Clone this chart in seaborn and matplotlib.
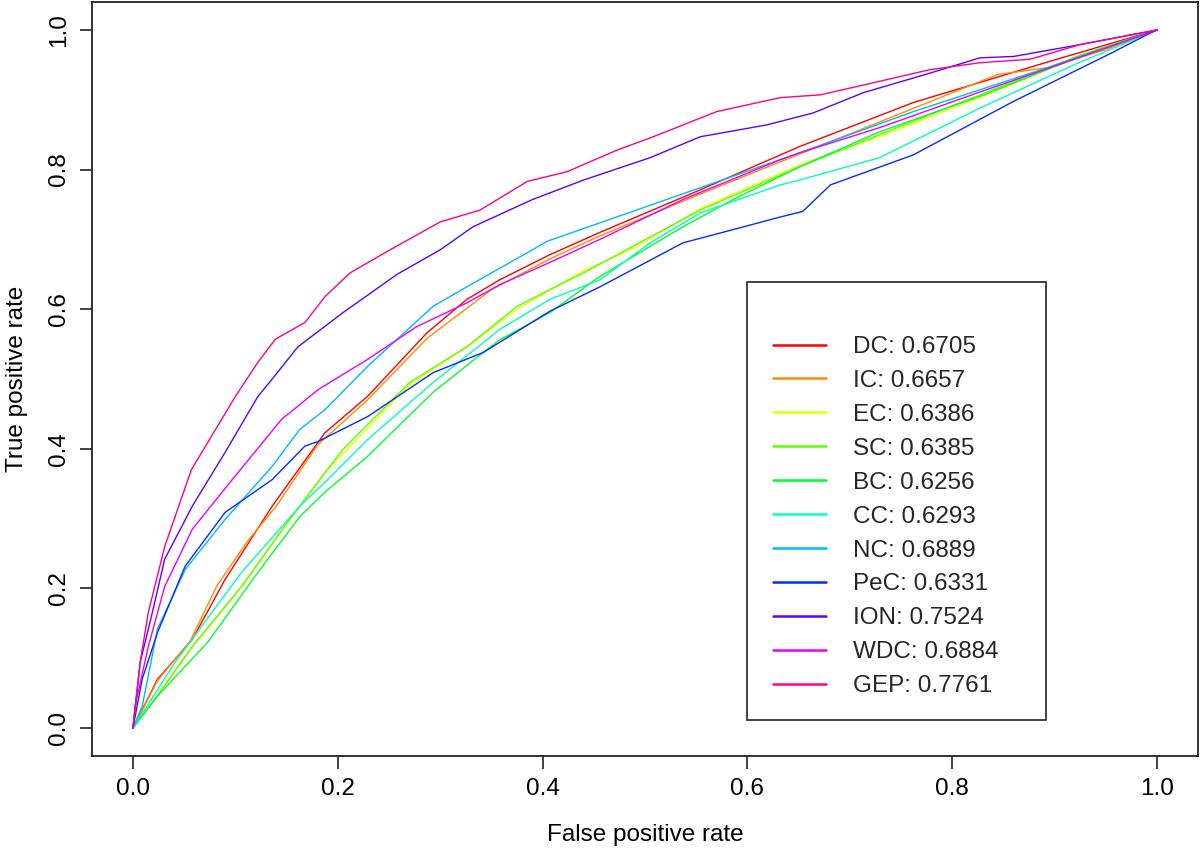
import numpy as np
import pandas as pd
import matplotlib
matplotlib.use("Agg")
import matplotlib.pyplot as plt
from matplotlib.lines import Line2D
from matplotlib.patches import Rectangle
import seaborn as sns

# ---------------- data ----------------
names = ["DC", "IC", "EC", "SC", "BC", "CC", "NC", "PeC", "ION", "WDC", "GEP"]
aucs = ["0.6705", "0.6657", "0.6386", "0.6385", "0.6256", "0.6293",
        "0.6889", "0.6331", "0.7524", "0.6884", "0.7761"]
colors = ["#FF0000", "#FF8B00", "#E8FF00", "#5DFF00", "#00FF2E", "#00FFB9",
          "#00B9FF", "#002EFF", "#5D00FF", "#E800FF", "#FF008B"]

dc_x = [0, 0.024, 0.058, 0.09, 0.136, 0.1875, 0.229, 0.287, 0.326, 0.358, 0.407, 0.456, 0.554, 0.651, 0.762, 0.893, 1.0]
dc_y = [0, 0.07, 0.127, 0.213, 0.318, 0.423, 0.475, 0.566, 0.614, 0.642, 0.678, 0.71, 0.771, 0.833, 0.896, 0.954, 1.0]

ic_x = [0, 0.024, 0.056, 0.082, 0.111, 0.14, 0.18, 0.229, 0.287, 0.35, 0.407, 0.456, 0.554, 0.632, 0.739, 0.844, 0.893, 0.95, 1.0]
ic_y = [0, 0.068, 0.125, 0.204, 0.266, 0.318, 0.405, 0.47, 0.558, 0.628, 0.672, 0.705, 0.765, 0.811, 0.874, 0.936, 0.946, 0.972, 1.0]

ec_x = [0, 0.02, 0.06, 0.105, 0.15, 0.19, 0.27, 0.33, 0.375, 0.44, 0.49, 0.555, 0.65, 0.73, 0.83, 0.925, 1.0]
ec_y = [0, 0.038, 0.12, 0.2, 0.292, 0.37, 0.492, 0.55, 0.6, 0.655, 0.688, 0.745, 0.806, 0.848, 0.905, 0.962, 1.0]

sc_x = [0, 0.019, 0.058, 0.106, 0.148, 0.1875, 0.205, 0.27, 0.326, 0.375, 0.407, 0.44, 0.488, 0.554, 0.651, 0.729, 0.827, 0.925, 1.0]
sc_y = [0, 0.037, 0.117, 0.203, 0.289, 0.366, 0.399, 0.495, 0.546, 0.604, 0.628, 0.652, 0.69, 0.742, 0.804, 0.85, 0.907, 0.964, 1.0]

bc_x = [0, 0.024, 0.073, 0.122, 0.163, 0.1875, 0.229, 0.293, 0.342, 0.358, 0.407, 0.456, 0.537, 0.586, 0.651, 0.729, 0.827, 0.925, 1.0]
bc_y = [0, 0.046, 0.123, 0.223, 0.303, 0.338, 0.389, 0.481, 0.538, 0.556, 0.595, 0.647, 0.718, 0.757, 0.804, 0.854, 0.905, 0.962, 1.0]

cc_x = [0, 0.041, 0.106, 0.163, 0.1875, 0.229, 0.293, 0.342, 0.358, 0.407, 0.456, 0.505, 0.554, 0.632, 0.651, 0.729, 0.827, 0.925, 1.0]
cc_y = [0, 0.094, 0.223, 0.318, 0.352, 0.413, 0.495, 0.552, 0.571, 0.614, 0.642, 0.695, 0.738, 0.778, 0.785, 0.817, 0.888, 0.954, 1.0]

nc_x = [0, 0.009, 0.024, 0.051, 0.09, 0.136, 0.163, 0.1875, 0.229, 0.293, 0.326, 0.39, 0.404, 0.554, 0.651, 0.762, 0.893, 1.0]
nc_y = [0, 0.031, 0.142, 0.227, 0.299, 0.375, 0.428, 0.456, 0.518, 0.604, 0.632, 0.685, 0.697, 0.774, 0.824, 0.883, 0.946, 1.0]

pec_x = [0, 0.009, 0.024, 0.051, 0.09, 0.136, 0.168, 0.18, 0.229, 0.293, 0.342, 0.407, 0.456, 0.537, 0.586, 0.632, 0.654, 0.681, 0.762, 0.859, 0.957, 0.99, 1.0]
pec_y = [0, 0.07, 0.137, 0.232, 0.309, 0.356, 0.404, 0.41, 0.446, 0.509, 0.538, 0.597, 0.632, 0.695, 0.714, 0.732, 0.74, 0.778, 0.821, 0.897, 0.968, 0.993, 1.0]

ion_x = [0, 0.007, 0.019, 0.031, 0.058, 0.09, 0.122, 0.136, 0.161, 0.205, 0.258, 0.30, 0.332, 0.39, 0.44, 0.505, 0.554, 0.619, 0.664, 0.713, 0.778, 0.827, 0.86, 0.925, 1.0]
ion_y = [0, 0.094, 0.166, 0.242, 0.318, 0.395, 0.475, 0.5, 0.546, 0.595, 0.65, 0.685, 0.718, 0.757, 0.785, 0.817, 0.847, 0.864, 0.881, 0.91, 0.938, 0.96, 0.962, 0.979, 1.0]

wdc_x = [0, 0.002, 0.015, 0.031, 0.058, 0.097, 0.145, 0.181, 0.229, 0.277, 0.326, 0.358, 0.407, 0.456, 0.537, 0.632, 0.651, 0.729, 0.827, 0.925, 1.0]
wdc_y = [0, 0.031, 0.117, 0.203, 0.285, 0.356, 0.442, 0.485, 0.528, 0.575, 0.609, 0.635, 0.667, 0.70, 0.757, 0.814, 0.824, 0.86, 0.911, 0.961, 1.0]

gep_x = [0, 0.007, 0.015, 0.031, 0.057, 0.1, 0.122, 0.139, 0.168, 0.1875, 0.212, 0.251, 0.30, 0.339, 0.385, 0.424, 0.473, 0.508, 0.570, 0.632, 0.671, 0.713, 0.778, 0.827, 0.876, 0.925, 1.0]
gep_y = [0, 0.094, 0.166, 0.26, 0.37, 0.475, 0.524, 0.557, 0.581, 0.618, 0.652, 0.685, 0.725, 0.742, 0.783, 0.797, 0.828, 0.847, 0.883, 0.903, 0.907, 0.921, 0.943, 0.953, 0.958, 0.979, 1.0]

xticks = [0.0, 0.2, 0.4, 0.6, 0.8, 1.0]
yticks = [0.0, 0.2, 0.4, 0.6, 0.8, 1.0]
tick_labels = ["0.0", "0.2", "0.4", "0.6", "0.8", "1.0"]

curves = {
    "DC": (dc_x, dc_y), "IC": (ic_x, ic_y), "EC": (ec_x, ec_y), "SC": (sc_x, sc_y),
    "BC": (bc_x, bc_y), "CC": (cc_x, cc_y), "NC": (nc_x, nc_y), "PeC": (pec_x, pec_y),
    "ION": (ion_x, ion_y), "WDC": (wdc_x, wdc_y), "GEP": (gep_x, gep_y),
}

rows = []
for n in names:
    xs, ys = curves[n]
    for i, (a, b) in enumerate(zip(xs, ys)):
        rows.append({"method": n, "order": i, "fpr": a, "tpr": b})
df = pd.DataFrame(rows)

# ---------------- plot ----------------
sns.set_style("white")
plt.rcParams["font.family"] = ["Liberation Sans", "DejaVu Sans"]

FS = 17.5

fig = plt.figure(figsize=(12, 8.49), dpi=100)
ax = fig.add_axes([92 / 1200, 1 - 756 / 849, (1198 - 92) / 1200, (756 - 2) / 849])

sns.lineplot(data=df, x="fpr", y="tpr", hue="method", hue_order=names,
             palette=dict(zip(names, colors)), sort=False, estimator=None,
             units="method", linewidth=1.0, legend=False, ax=ax)

ax.set_xlim(-0.04, 1.04)
ax.set_ylim(-0.04, 1.04)
ax.set_xticks(xticks)
ax.set_xticklabels(tick_labels)
ax.set_yticks(yticks)
ax.set_yticklabels(tick_labels, rotation=90, va="center")
ax.tick_params(axis="both", direction="out", length=9, width=1.2, color="#222222",
               labelsize=FS, pad=7, bottom=True, left=True, labelcolor="black")
for s in ax.spines.values():
    s.set_visible(True)
    s.set_color("#222222")
    s.set_linewidth(1.3)

ax.set_xlabel("False positive rate", fontsize=FS, labelpad=17, color="black")
ax.set_ylabel("True positive rate", fontsize=FS, labelpad=14, color="black")

# legend box (R-style, square corners)
axw = 1198 - 92
axh = 756 - 2
lx0 = (747 - 92) / axw
ly0 = (756 - 720) / axh
lx1 = (1046 - 92) / axw
ly1 = (756 - 282) / axh
ax.add_patch(Rectangle((lx0, ly0), lx1 - lx0, ly1 - ly0, transform=ax.transAxes,
                       facecolor="white", edgecolor="#222222", linewidth=1.2, zorder=5))
handles = [Line2D([0], [0], color=c, linewidth=1.8) for c in colors]
labels = [f"{n}: {a}" for n, a in zip(names, aucs)]
leg = ax.legend(handles, labels, loc="upper left",
                bbox_to_anchor=((773 - 92) / axw, (756 - 336) / axh),
                frameon=False, fontsize=FS, handlelength=2.2, handletextpad=1.1,
                labelspacing=0.49, borderpad=0, borderaxespad=0)
leg.set_zorder(6)

fig.savefig("out.png", dpi=100)
